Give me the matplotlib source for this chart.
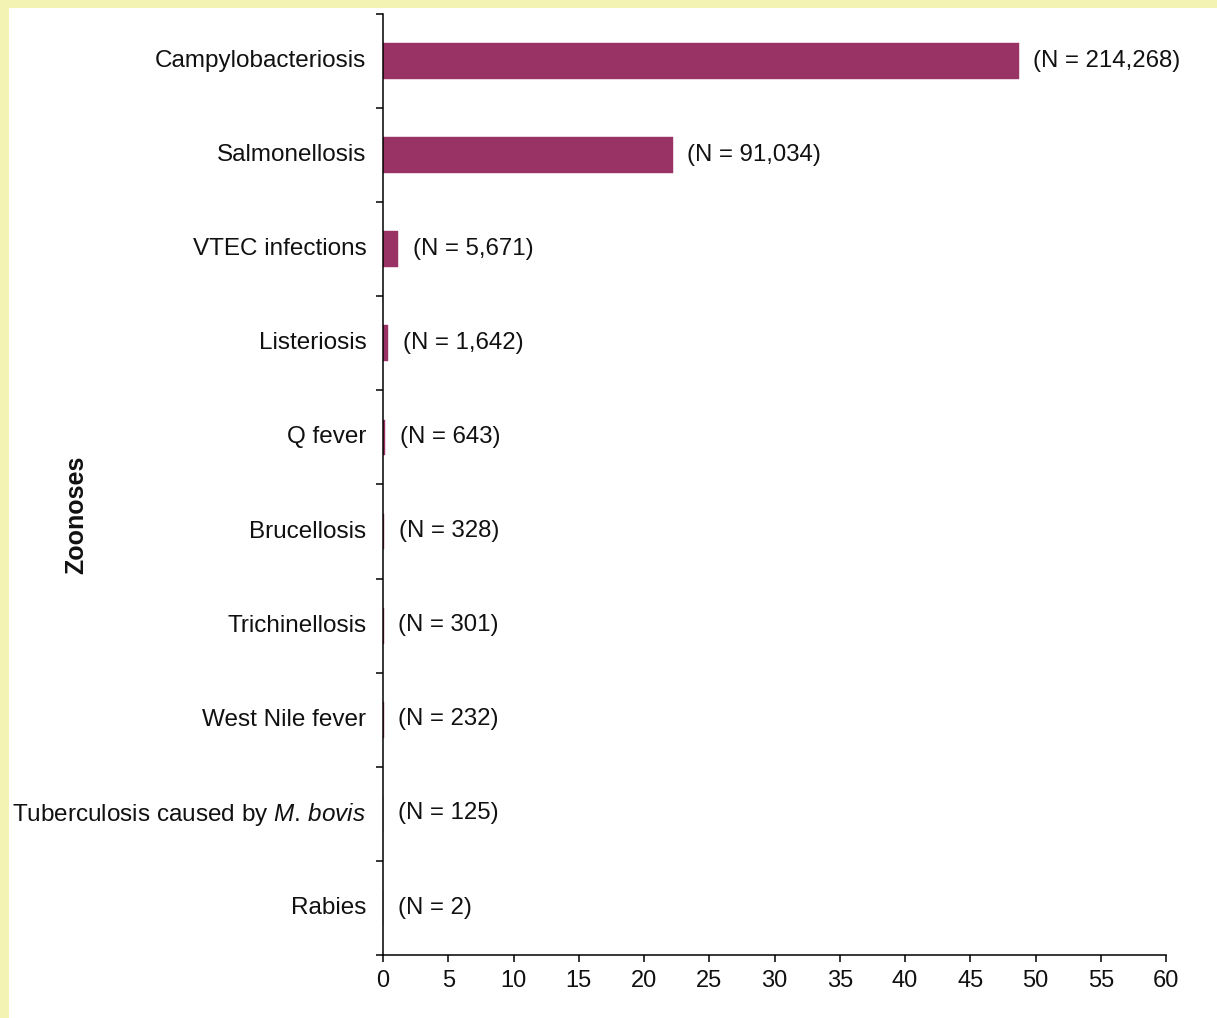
import matplotlib
matplotlib.use("Agg")
import matplotlib.pyplot as plt
import matplotlib.transforms as mtransforms
import numpy as np
from matplotlib.patches import Rectangle

# data
diseases = ["Campylobacteriosis", "Salmonellosis", "VTEC infections", "Listeriosis",
            "Q fever", "Brucellosis", "Trichinellosis", "West Nile fever",
            r"Tuberculosis caused by $\mathit{M.\,bovis}$", "Rabies"]
rates = [48.7, 22.2, 1.15, 0.41, 0.15, 0.08, 0.06, 0.05, 0.03, 0.0]
cases = ["214,268", "91,034", "5,671", "1,642", "643", "328", "301", "232", "125", "2"]
xticks = list(range(0, 61, 5))

plt.rcParams['font.family'] = ['Liberation Sans', 'DejaVu Sans']
plt.rcParams['mathtext.fontset'] = 'custom'
plt.rcParams['mathtext.rm'] = 'Liberation Sans'
plt.rcParams['mathtext.it'] = 'Liberation Sans:italic'

W, H = 1217, 1018
fig = plt.figure(figsize=(W / 100, H / 100), dpi=100)
fig.patch.set_facecolor('white')
# yellow frame on the top and left edges
yellow = '#F3F3B3'
fig.patches.append(Rectangle((0, 0), 9 / W, 1, transform=fig.transFigure,
                             facecolor=yellow, edgecolor='none', zorder=-10))
fig.patches.append(Rectangle((0, 1 - 8 / H), 1, 8 / H, transform=fig.transFigure,
                             facecolor=yellow, edgecolor='none', zorder=-10))

ax = fig.add_axes([383 / W, 1 - 955 / H, (1166 - 383) / W, (955 - 14) / H])
ax.set_facecolor('none')

y = np.arange(len(diseases))
ax.barh(y, rates, height=0.38, color='#993366', edgecolor='#993366', linewidth=0.3)

for yi, r, n in zip(y, rates, cases):
    ax.annotate("(N = %s)" % n, xy=(r, yi), xytext=(10.5, 0.3), textcoords='offset points',
                ha='left', va='center', fontsize=17.3, color='#111111')

ax.set_ylim(len(diseases) - 0.5, -0.5)
ax.set_xlim(0, 60)
ax.set_xticks(xticks)
ax.set_yticks(y)
ax.set_yticklabels(diseases)
ax.set_yticks(np.arange(len(diseases) + 1) - 0.5, minor=True)

ax.tick_params(axis='y', which='major', length=0, pad=12, labelsize=17.5, labelcolor='#111111')
# nudge category labels up a little
up = mtransforms.ScaledTranslation(0, 2.5 / 100, fig.dpi_scale_trans)
for lab in ax.get_yticklabels():
    lab.set_transform(lab.get_transform() + up)
ax.tick_params(axis='y', which='minor', length=5, width=1.1, direction='out')
ax.tick_params(axis='x', which='major', length=5, width=1.1, direction='out', pad=6,
               labelsize=17, labelcolor='#111111')

for side in ['top', 'right']:
    ax.spines[side].set_visible(False)
for side in ['left', 'bottom']:
    ax.spines[side].set_linewidth(1.1)

fig.text(76 / W, 1 - 515 / H, "Zoonoses", rotation=90, ha='center', va='center',
         fontsize=18, fontweight='bold', color='#111111')

fig.savefig("out.png", dpi=100)
